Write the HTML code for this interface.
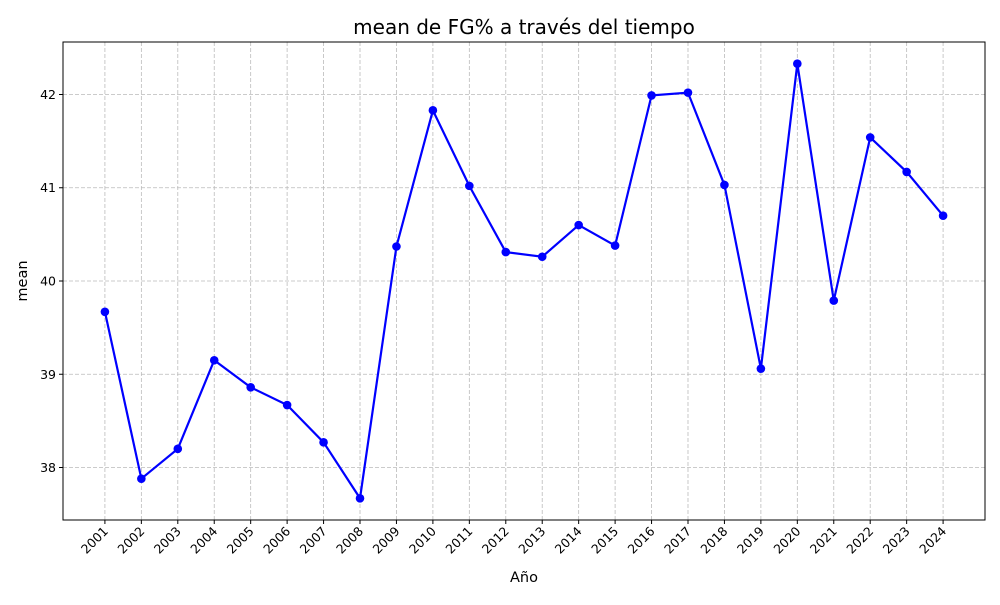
<!DOCTYPE html>
<html><head><meta charset="utf-8"><style>body{margin:0;background:#fff}svg{font-family:"DejaVu Sans","Liberation Sans",sans-serif}</style></head>
<body>
<svg id="chart" width="1000" height="600"></svg>
<script>
const years=[2001,2002,2003,2004,2005,2006,2007,2008,2009,2010,2011,2012,2013,2014,2015,2016,2017,2018,2019,2020,2021,2022,2023,2024];
const values=[39.67,37.88,38.20,39.15,38.86,38.67,38.27,37.67,40.37,41.83,41.02,40.31,40.26,40.60,40.38,41.99,42.02,41.03,39.06,42.33,39.79,41.54,41.17,40.70];
const yTicks=[38,39,40,41,42];
const L=63,R=985,T=42,B=520;
const xMin=years[0]-(years[years.length-1]-years[0])*0.05, xMax=years[years.length-1]+(years[years.length-1]-years[0])*0.05;
const vmin=Math.min(...values),vmax=Math.max(...values),pad=(vmax-vmin)*0.05;
const yMin=vmin-pad,yMax=vmax+pad;
const xS=v=>L+(v-xMin)/(xMax-xMin)*(R-L);
const yS=v=>B-(v-yMin)/(yMax-yMin)*(B-T);
const svg=document.getElementById('chart');const NS='http://www.w3.org/2000/svg';
function mk(t,a,p){const e=document.createElementNS(NS,t);for(const k in a)e.setAttribute(k,a[k]);(p||svg).appendChild(e);return e;}
const grid=mk('g',{});


years.forEach(y=>{mk('line',{x1:xS(y),x2:xS(y),y1:T,y2:B,stroke:'#bbbbbb','stroke-dasharray':'4,2','stroke-width':0.8},grid);});
yTicks.forEach(v=>{mk('line',{x1:L,x2:R,y1:yS(v),y2:yS(v),stroke:'#bbbbbb','stroke-dasharray':'4,2','stroke-width':0.8},grid);});
const frame=mk('rect',{x:L,y:T,width:R-L,height:B-T,fill:'none',stroke:'#000','stroke-width':1});


years.forEach(y=>{
 mk('line',{x1:xS(y),x2:xS(y),y1:B,y2:B+4,stroke:'#000'});
 const t=mk('text',{x:xS(y)+4,y:B+12,'font-size':12.5,'text-anchor':'end',transform:`rotate(-45 ${xS(y)+4} ${B+12})`});
 t.textContent=y;
 
 
});
yTicks.forEach(v=>{
 mk('line',{x1:L-4,x2:L,y1:yS(v),y2:yS(v),stroke:'#000'});
 const t=mk('text',{x:L-7,y:yS(v)+4.5,'font-size':12.5,'text-anchor':'end'});
 t.textContent=v;
 
 
});
const line=mk('polyline',{points:years.map((y,i)=>xS(y)+','+yS(values[i])).join(' '),fill:'none',stroke:'#0000ff','stroke-width':2.2});


years.forEach((y,i)=>{
 const c=mk('circle',{cx:xS(y),cy:yS(values[i]),r:4.3,fill:'#0000ff'});
 
 
});
const title=mk('text',{x:(L+R)/2,y:34,'font-size':20,'text-anchor':'middle'});title.textContent='mean de FG% a través del tiempo';


const xt=mk('text',{x:(L+R)/2,y:582,'font-size':14.5,'text-anchor':'middle'});xt.textContent='Año';


const yt=mk('text',{x:27,y:(T+B)/2,'font-size':14.5,'text-anchor':'middle',transform:`rotate(-90 27 ${(T+B)/2})`});yt.textContent='mean';


</script>
</body></html>
